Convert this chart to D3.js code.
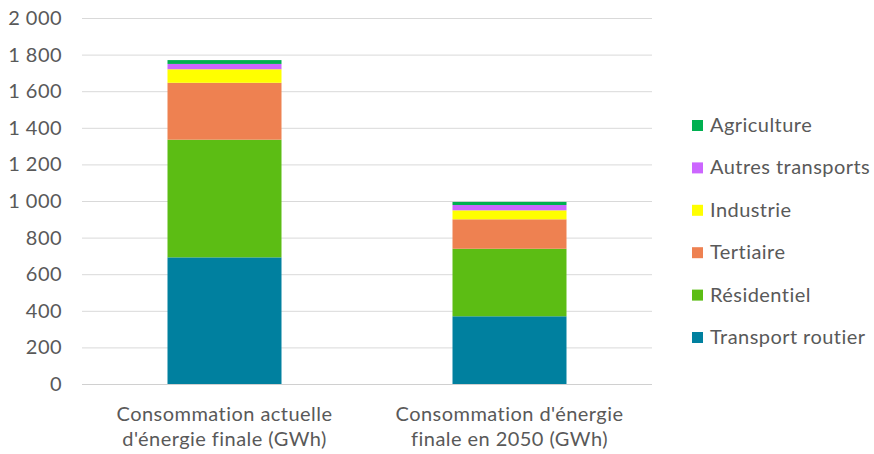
<!DOCTYPE html>
<html><head><meta charset="utf-8">
<script src="https://cdn.jsdelivr.net/npm/d3@7"></script>
<style>body{margin:0;background:#fff}svg text{font-family:Lato,"Open Sans",sans-serif;fill:#595959;letter-spacing:0.45px}</style>
</head><body><svg id="c" width="874" height="454"></svg>
<script>
const categories = [["Consommation actuelle","d'énergie finale (GWh)"],["Consommation d'énergie","finale en 2050 (GWh)"]];
const seriesNames = ["Transport routier","Résidentiel","Tertiaire","Industrie","Autres transports","Agriculture"];
const seriesColors = ["#00809f","#5cbd14","#ee8151","#ffff00","#cc66ff","#00b050"];
const transportRoutier = [692, 370];
const residentiel = [643, 369];
const tertiaire = [311, 161];
const industrie = [74, 49];
const autresTransports = [29, 29];
const agriculture = [21, 17];
const yTicks = [0,200,400,600,800,1000,1200,1400,1600,1800,2000];

const seriesValues = [transportRoutier, residentiel, tertiaire, industrie, autresTransports, agriculture];
const svg = d3.select("#c");
const m = {l:82, r:652, t:18, b:384};
const x = d3.scaleBand().domain([0,1]).range([m.l,m.r]).paddingInner(0.6).paddingOuter(0.3);
const y = d3.scaleLinear().domain([0,2000]).range([m.b,m.t]);
const fmt = d3.formatLocale({decimal:",",thousands:"\u00a0",grouping:[3],currency:["","€"]}).format(",d");

svg.append("g").selectAll("line").data(yTicks).join("line")
  .attr("x1",m.l).attr("x2",m.r).attr("y1",d=>y(d)+0.5).attr("y2",d=>y(d)+0.5)
  .attr("stroke",d=>d===0?"#d0d0d0":"#d9d9d9").attr("stroke-width",1);
svg.append("g").selectAll("text").data(yTicks).join("text")
  .attr("x",62).attr("y",d=>y(d)).attr("dy","0.35em").attr("text-anchor","end")
  .attr("font-size",20).text(d=>fmt(d));

const rows = categories.map((c,i)=>{const o={i};seriesNames.forEach((s,k)=>o[s]=seriesValues[k][i]);return o;});
const stack = d3.stack().keys(seriesNames)(rows);
svg.append("g").selectAll("g").data(stack).join("g").attr("fill",(d,k)=>seriesColors[k])
  .selectAll("rect").data(d=>d).join("rect")
  .attr("x",d=>x(d.data.i)).attr("width",x.bandwidth())
  .attr("y",d=>y(d[1])).attr("height",d=>y(d[0])-y(d[1]));

const xl = svg.append("g").selectAll("text").data(categories).join("text")
  .attr("text-anchor","middle").attr("font-size",20)
  .attr("transform",(d,i)=>`translate(${x(i)+x.bandwidth()/2},0)`);
xl.selectAll("tspan").data(d=>d).join("tspan").attr("x",0).attr("y",(d,j)=>421+j*25).text(d=>d);

const legendOrder = seriesNames.map((s,k)=>k).reverse();
const lg = svg.append("g").selectAll("g").data(legendOrder).join("g")
  .attr("transform",(k,j)=>`translate(692,${125+j*42.4})`);
lg.append("rect").attr("x",0).attr("y",-5).attr("width",11).attr("height",11).attr("fill",k=>seriesColors[k]);
lg.append("text").attr("x",18).attr("y",0).attr("dy","0.35em").attr("font-size",20).text(k=>seriesNames[k]);
</script></body></html>
